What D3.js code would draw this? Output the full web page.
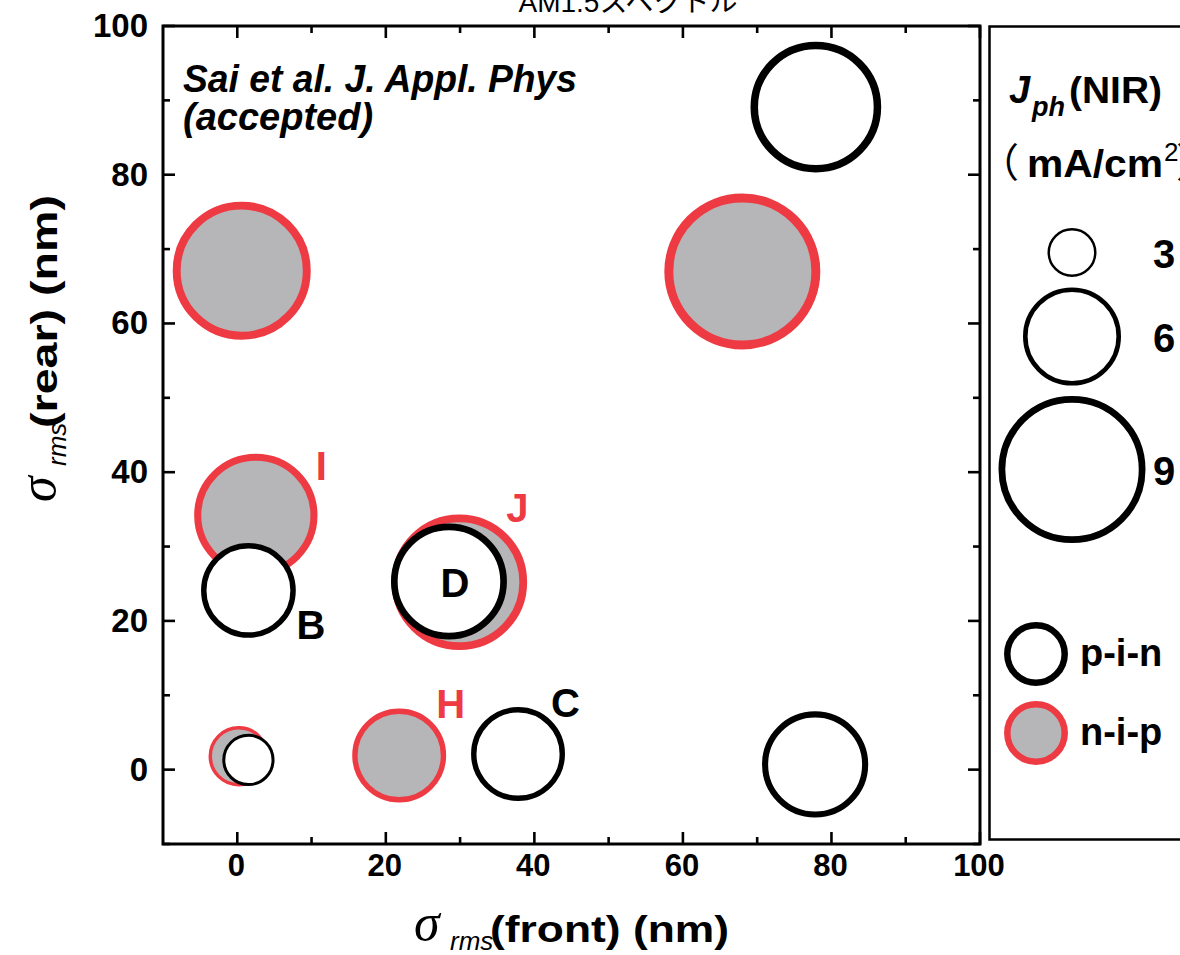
<!DOCTYPE html>
<html><head><meta charset="utf-8">
<script src="https://cdn.jsdelivr.net/npm/d3@7"></script>
<style>
html,body{margin:0;padding:0;background:#fff;}
svg{display:block;}
text{font-family:"Liberation Sans",Arial,sans-serif;}
</style></head>
<body>
<svg id="chart" width="1180" height="955"></svg>
<script>
// ---------------- data ----------------
const title = "AM1.5スペクトル";
const xTicks = [0, 20, 40, 60, 80, 100];
const yTicks = [0, 20, 40, 60, 80, 100];
const xMinor = [10, 30, 50, 70, 90];
const yMinor = [-10, 10, 30, 50, 70, 90];

// p-i-n devices (open black circles)
const pinX = [77.9, 1.5, 28.5, 37.8, 1.5, 77.8];
const pinY = [89.1, 24.1, 25.3, 2.1, 1.3, 0.7];
const pinJ = [8.0, 5.8, 7.1, 5.75, 3.2, 6.5];
const pinLabel = ["", "B", "D", "C", "", ""];

// n-i-p devices (grey circles, red edge)
const nipX = [0.6, 68.0, 2.5, 29.9, 21.8, 0.2];
const nipY = [67.1, 67.0, 34.2, 25.2, 1.9, 1.8];
const nipJ = [8.45, 9.55, 7.55, 8.3, 5.75, 3.7];
const nipLabel = ["", "", "I", "J", "H", ""];

const legendSizes = [3, 6, 9];
const legendTypes = ["p-i-n", "n-i-p"];

// ---------------- styles / layout ----------------
const RED = "#ee3a43", GREY = "#b6b6b8";
const svg = d3.select("#chart");
const L = 163, R = 980, T = 26, B = 844;
const x = d3.scaleLinear().domain([-10, 100]).range([L, R]);
const y = d3.scaleLinear().domain([-10, 100]).range([B, T]);
const rOuter = d3.scaleLinear().domain([0, 9]).range([0, 73.5]);
const swPlot = J => Math.max(2.6, 0.115 * rOuter(J));
const swLegend = J => 0.3 + 0.088 * rOuter(J);

// label placement (offset from bubble centre, px)
const labelOff = {I: [60, -35, "start"], J: [47, -60, "start"], D: [6, 16, "middle"],
                  H: [37, -38, "start"], C: [33, -37, "start"], B: [48, 49, "start"]};

// title (partly clipped at top)
svg.append("text").attr("x", 628).attr("y", 12).attr("text-anchor", "middle")
  .style("font-family", '"Liberation Sans","Noto Sans CJK JP",sans-serif')
  .style("font-size", "28px").attr("fill", "#000").text(title);

// ---------------- bubbles ----------------
const nip = nipX.map((v, i) => ({x: v, y: nipY[i], J: nipJ[i], label: nipLabel[i]}));
const pin = pinX.map((v, i) => ({x: v, y: pinY[i], J: pinJ[i], label: pinLabel[i]}));

const gB = svg.append("g");
gB.selectAll("circle.nip").data(nip).join("circle").attr("class", "nip")
  .attr("cx", d => x(d.x)).attr("cy", d => y(d.y))
  .attr("r", d => rOuter(d.J) - swPlot(d.J) / 2)
  .attr("fill", GREY).attr("stroke", RED).attr("stroke-width", d => swPlot(d.J));
gB.selectAll("circle.pin").data(pin).join("circle").attr("class", "pin")
  .attr("cx", d => x(d.x)).attr("cy", d => y(d.y))
  .attr("r", d => rOuter(d.J) - swPlot(d.J) / 2)
  .attr("fill", "#fff").attr("stroke", "#000").attr("stroke-width", d => swPlot(d.J));

// labels
const lab = [...nip.map(d => ({...d, c: RED})), ...pin.map(d => ({...d, c: "#000"}))].filter(d => d.label);
svg.selectAll("text.lab").data(lab).join("text").attr("class", "lab")
  .attr("x", d => x(d.x) + labelOff[d.label][0]).attr("y", d => y(d.y) + labelOff[d.label][1])
  .attr("text-anchor", d => labelOff[d.label][2])
  .style("font-size", "40px").style("font-weight", "bold").attr("fill", d => d.c).text(d => d.label);

// ---------------- frame & ticks ----------------
const gA = svg.append("g").attr("stroke", "#000").attr("stroke-width", 2.6);
gA.append("rect").attr("x", L).attr("y", T).attr("width", R - L).attr("height", B - T).attr("fill", "none").attr("stroke-width", 3);
const tk = (vals, len) => {
  vals.forEach(v => {
    gA.append("line").attr("x1", x(v)).attr("x2", x(v)).attr("y1", B).attr("y2", B - len);
    gA.append("line").attr("x1", x(v)).attr("x2", x(v)).attr("y1", T).attr("y2", T + len);
  });
};
const tky = (vals, len) => {
  vals.forEach(v => {
    gA.append("line").attr("y1", y(v)).attr("y2", y(v)).attr("x1", L).attr("x2", L + len);
    gA.append("line").attr("y1", y(v)).attr("y2", y(v)).attr("x1", R).attr("x2", R - len);
  });
};
tk(xTicks, 12); tk(xMinor, 7); tky(yTicks, 12); tky(yMinor, 7);

svg.selectAll("text.xt").data(xTicks).join("text").attr("class", "xt")
  .attr("x", d => x(d) - 1).attr("y", 876).attr("text-anchor", "middle")
  .style("font-size", "31px").style("font-weight", "bold").text(d => d);
svg.selectAll("text.yt").data(yTicks).join("text").attr("class", "yt")
  .attr("x", 148).attr("y", d => y(d) + 11).attr("text-anchor", "end")
  .style("font-size", "33px").style("font-weight", "bold").text(d => d);

// axis titles
const xt = svg.append("g");
xt.append("text").attr("x", 414).attr("y", 940).style("font-family", '"Liberation Serif",serif')
  .style("font-style", "italic").style("font-size", "52px").text("σ");
xt.append("text").attr("x", 450).attr("y", 950).style("font-style", "italic").style("font-size", "26px").text("rms");
xt.append("text").attr("x", 490).attr("y", 942).style("font-weight", "bold").style("font-size", "36px")
  .attr("textLength", 239).attr("lengthAdjust", "spacingAndGlyphs").text("(front) (nm)");

const yt = svg.append("g").attr("transform", "translate(57,0) rotate(-90)");
yt.append("text").attr("x", -502).attr("y", -2).style("font-family", '"Liberation Serif",serif')
  .style("font-style", "italic").style("font-size", "52px").text("σ");
yt.append("text").attr("x", -466).attr("y", 9).style("font-style", "italic").style("font-size", "26px").text("rms");
yt.append("text").attr("x", -428).attr("y", 0).style("font-weight", "bold").style("font-size", "36px")
  .attr("textLength", 233).attr("lengthAdjust", "spacingAndGlyphs").text("(rear) (nm)");

// annotation
const ann = svg.append("g").style("font-weight", "bold").style("font-style", "italic").style("font-size", "38px");
ann.append("text").attr("x", 183).attr("y", 92).attr("textLength", 394).attr("lengthAdjust", "spacingAndGlyphs").text("Sai et al. J. Appl. Phys");
ann.append("text").attr("x", 183).attr("y", 130).text("(accepted)");

// ---------------- legend ----------------
svg.append("rect").attr("x", 989.5).attr("y", 26.5).attr("width", 220).attr("height", 813)
  .attr("fill", "none").attr("stroke", "#000").attr("stroke-width", 2.5);

const lt = svg.append("text").attr("y", 103);
lt.append("tspan").attr("x", 1009).style("font-weight", "bold").style("font-style", "italic").style("font-size", "38px").text("J");
lt.append("tspan").attr("x", 1032).attr("y", 116).style("font-weight", "bold").style("font-style", "italic").style("font-size", "27px").text("ph");
lt.append("tspan").attr("x", 1069).attr("y", 103).style("font-weight", "bold").style("font-size", "37px")
  .attr("textLength", 93).attr("lengthAdjust", "spacingAndGlyphs").text("(NIR)");

const lu = svg.append("text").attr("y", 177);
lu.append("tspan").attr("x", 979).style("font-family", '"Noto Sans CJK JP",sans-serif').style("font-size", "40px").text("（");
lu.append("tspan").attr("x", 1027).style("font-weight", "bold").style("font-size", "39px")
  .attr("textLength", 136).attr("lengthAdjust", "spacingAndGlyphs").text("mA/cm");
lu.append("tspan").attr("x", 1164).attr("y", 161).style("font-size", "26px").text("2");
lu.append("tspan").attr("x", 1176).attr("y", 177).style("font-family", '"Noto Sans CJK JP",sans-serif').style("font-size", "40px").text("）");

// size legend (stacked)
let legTop = 228; const gap = 10.5;
legendSizes.forEach(J => {
  const ro = rOuter(J), sw = swLegend(J), cy = legTop + ro;
  svg.append("circle").attr("cx", 1072).attr("cy", cy).attr("r", ro - sw / 2)
    .attr("fill", "#fff").attr("stroke", "#000").attr("stroke-width", sw);
  svg.append("text").attr("x", 1153).attr("y", cy + 15).style("font-weight", "bold").style("font-size", "40px").text(J);
  legTop = cy + ro + gap;
});

// type legend
legendTypes.forEach((t, i) => {
  const cy = 654 + i * 79;
  svg.append("circle").attr("cx", 1036).attr("cy", cy).attr("r", 28.7)
    .attr("fill", i ? GREY : "#fff").attr("stroke", i ? RED : "#000").attr("stroke-width", 6.5);
  svg.append("text").attr("x", 1080).attr("y", cy + 12).style("font-weight", "bold").style("font-size", "38px").text(t);
});
</script>
</body></html>
